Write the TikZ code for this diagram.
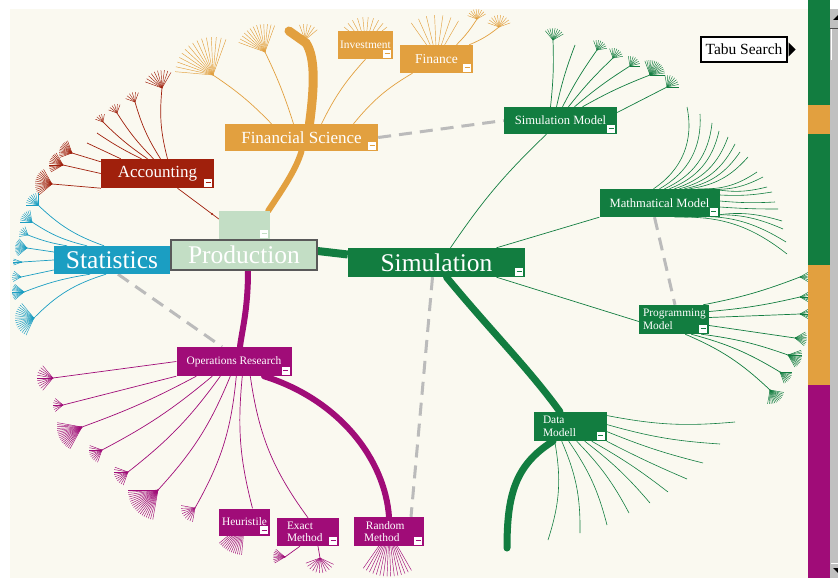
\documentclass[tikz,border=0pt]{standalone}
\usepackage{fontspec}
\setmainfont{Liberation Serif}
\usetikzlibrary{arrows.meta, positioning, calc, backgrounds}

\definecolor{cream}{RGB}{250,249,240}
\definecolor{fsorange}{RGB}{226,160,63}
\definecolor{acred}{RGB}{160,32,12}
\definecolor{stblue}{RGB}{27,158,194}
\definecolor{simgreen}{RGB}{18,125,64}
\definecolor{ormag}{RGB}{160,12,120}
\definecolor{prodgreen}{RGB}{195,222,197}
\definecolor{dashgray}{RGB}{187,187,187}
\definecolor{bargray}{RGB}{192,192,192}

\tikzset{
  box/.style      = {inner sep=0pt, text=white, align=center},
  twig/.style     = {line width=0.7pt},
  fan/.style      = {line width=0.45pt},
  trunk/.style    = {line cap=round},
  link/.style     = {dashgray, line width=3pt, dash pattern=on 13pt off 8pt},
  minusbox/.style = {fill=white, minimum size=8pt, inner sep=0pt}
}

% fan of twigs: colour, centre, first angle, last angle, length, steps
\newcommand{\twigfan}[6]{%
  \foreach \k in {0,...,#6}
    \draw[#1, fan] (#2) -- ++({#3+(#4-#3)*\k/#6}:#5);}

\begin{document}
\begin{tikzpicture}[x=1pt, y=-1pt,
  lblbig/.style={font=\fontsize{25.5}{28}\selectfont},
  lblmid/.style={font=\fontsize{17}{19}\selectfont},
  lblsmall/.style={font=\fontsize{12.6}{14}\selectfont},
  lbltiny/.style={font=\fontsize{11.4}{12.6}\selectfont}]

\useasboundingbox (0,0) rectangle (838,578);

% topic boxes
\node[box, lbltiny, fill=fsorange, minimum width=55, minimum height=28] (invest) at (365.5,45) {Investment};
\node[box, font=\fontsize{13.5}{15}\selectfont, fill=fsorange, minimum width=73, minimum height=28] (finance) at (436.5,59) {Finance};
\node[box, lblmid, fill=fsorange, minimum width=153, minimum height=27] (finsci) at (301.5,137.5) {Financial Science};
\node[box, lblmid, fill=acred, minimum width=113, minimum height=29] (acct) at (157.5,173.5) {Accounting};
\node[box, fill=prodgreen, minimum width=51, minimum height=28] (prodtop) at (244.5,225) {};
\node[box, lblbig, fill=stblue, minimum width=116, minimum height=28] (stats) at (112,260) {Statistics};
\node[box, lblbig, fill=prodgreen, draw=black!65, line width=1.2pt, minimum width=146, minimum height=30] (prod) at (244,255) {Production};
\node[box, lblbig, fill=simgreen, minimum width=177, minimum height=29] (sim) at (436.5,262.5) {Simulation};
\node[box, lblsmall, fill=simgreen, minimum width=113, minimum height=27] (simmodel) at (560.5,120.5) {Simulation Model};
\node[box, lblsmall, fill=simgreen, minimum width=120, minimum height=28] (mathmodel) at (659.5,203) {Mathmatical Model};
\node[box, lbltiny, fill=simgreen, minimum width=70, minimum height=29, text width=62, align=left] (progmodel) at (674,319.5) {Programming\\Model};
\node[box, lbltiny, fill=simgreen, minimum width=73, minimum height=29, text width=54, align=left] (datamodel) at (570,426.5) {Data\\Modell};
\node[box, lbltiny, fill=ormag, minimum width=115, minimum height=29] (opres) at (234,361.5) {Operations Research};
\node[box, lbltiny, fill=ormag, minimum width=51, minimum height=27] (heur) at (244.5,522) {Heuristile};
\node[box, lbltiny, fill=ormag, minimum width=62, minimum height=28, text width=42, align=left] (exact) at (308,532) {Exact\\Method};
\node[box, lbltiny, fill=ormag, minimum width=70, minimum height=29, text width=50, align=left] (random) at (389,531.5) {\,Random\\Method};

% collapse markers
\foreach \n/\c in {invest/fsorange, finance/fsorange, finsci/fsorange, acct/acred,
                   prodtop/prodgreen, sim/simgreen, simmodel/simgreen, mathmodel/simgreen,
                   progmodel/simgreen, datamodel/simgreen, opres/ormag, heur/ormag,
                   exact/ormag, random/ormag}{
  \node[minusbox] (m\n) at ([xshift=-6pt,yshift=5.5pt]\n.south east) {};
  \draw[\c, line width=1.3pt] ([xshift=-2.5pt]m\n.center) -- ([xshift=2.5pt]m\n.center);
}

\node[draw=black, line width=1.3pt, fill=white, inner sep=0pt, minimum width=86, minimum height=25,
      font=\fontsize{15.5}{17}\selectfont] (tabu) at (744,49.5) {Tabu Search};
\fill ([xshift=1pt,yshift=7pt]tabu.east) -- ([xshift=8pt]tabu.east) -- ([xshift=1pt,yshift=-7pt]tabu.east) -- cycle;

\begin{scope}[on background layer]
\fill[white] (0,0) rectangle (838,578);
\fill[cream] (10,9) rectangle (808,578);

% cross links
\draw[link] (finsci.east) -- (simmodel.west);
\draw[link] ([xshift=6]stats.south) -- ([xshift=-12]opres.north);
\draw[link] ([xshift=-4]sim.south) -- ([xshift=22]random.north);
\draw[link] ([xshift=-5]mathmodel.south) -- ([xshift=1]progmodel.north);

% financial science
\coordinate (fstop) at (289,31);
\foreach \nm/\px/\py in {fa/213/75, fb/265/52, fc/305/40, fd/477/19, fe/499/27}
  \coordinate (\nm) at (\px,\py);
\draw[twig, fsorange] ([xshift=-30]finsci.north) to[bend right=6] (fa);
\draw[twig, fsorange] ([xshift=-8]finsci.north) to[bend right=4] (fb);
\draw[twig, fsorange] ([xshift=20]finsci.north) to[bend left=8] (invest.south);
\draw[twig, fsorange] ([xshift=52]finsci.north) to[bend left=10] ([xshift=-24]finance.south);
\draw[twig, fsorange] ([xshift=20]finance.north) to[bend right=6] (fd);
\draw[twig, fsorange] ([xshift=-4]finance.north east) to[bend right=8] (fe);
\twigfan{fsorange}{fa}{185}{290}{38}{14}
\twigfan{fsorange}{fb}{200}{290}{28}{12}
\twigfan{fsorange}{fc}{250}{320}{16}{5}
\twigfan{fsorange}{fd}{200}{330}{10}{8}
\twigfan{fsorange}{fe}{200}{340}{12}{9}
\twigfan{fsorange}{invest.center}{220}{320}{28}{9}
\twigfan{fsorange}{finance.center}{235}{300}{44}{6}
\draw[trunk, fsorange, line width=6] ([xshift=-2]prodtop.north east) .. controls (282,190) and (296,170) .. (finsci.south);
\draw[trunk, fsorange, line width=9] ([xshift=8]finsci.north) .. controls (314,90) and (316,58) .. (306,43) -- (fstop);

% accounting
\foreach \nm/\px/\py in {ra/162/88, rb/135/102, rc/117/113, rd/103/122, re/97/133,
                         rf/87/143, rg/72/153, rh/63/165, ri/52/184}
  \coordinate (\nm) at (\px,\py);
\draw[twig, acred] ([xshift=10]acct.north) to[bend left=10] (ra);
\draw[twig, acred] ([xshift=3]acct.north) to[bend left=8] (rb);
\draw[twig, acred] ([xshift=-4]acct.north) to[bend left=6] (rc);
\draw[twig, acred] ([xshift=-10]acct.north) to[bend left=5] (rd);
\draw[twig, acred] ([xshift=-16]acct.north) to[bend left=4] (re);
\draw[twig, acred] ([xshift=20]acct.north west) -- (rf);
\draw[twig, acred] ([yshift=-3]acct.north west) -- (rg);
\draw[twig, acred] (acct.west) -- (rh);
\draw[twig, acred] (acct.south west) -- (ri);
\twigfan{acred}{ra}{200}{300}{18}{9}
\twigfan{acred}{rb}{200}{290}{10}{5}
\twigfan{acred}{rc}{200}{290}{9}{5}
\twigfan{acred}{rd}{200}{280}{8}{4}
\twigfan{acred}{rg}{160}{250}{13}{12}
\twigfan{acred}{rh}{150}{240}{14}{12}
\twigfan{acred}{ri}{140}{240}{17}{14}
\draw[twig, acred] ([xshift=20]acct.south) -- ([yshift=6]prodtop.west);
\fill[acred] (212,214) circle (1.2);

% statistics
\foreach \nm/\px/\py in {sa/38/205, sb/32/222, sc/28/235, sd/27/248, se/22/262,
                         sf/21/277, sg/24/292, sh/34/318}
  \coordinate (\nm) at (\px,\py);
\draw[twig, stblue] ([xshift=-8]stats.north) to[bend left=12] (sa);
\draw[twig, stblue] ([xshift=-25]stats.north) to[bend left=10] (sb);
\draw[twig, stblue] ([xshift=-45]stats.north) to[bend left=6] (sc);
\draw[twig, stblue] ([yshift=8]stats.west) -- (sd);
\draw[twig, stblue] (stats.west) -- (se);
\draw[twig, stblue] ([yshift=-10]stats.west) -- (sf);
\draw[twig, stblue] ([xshift=-22]stats.south) to[bend right=6] (sg);
\draw[twig, stblue] ([xshift=-6]stats.south) to[bend right=14] (sh);
\twigfan{stblue}{sa}{180}{270}{12}{8}
\twigfan{stblue}{sb}{180}{260}{12}{8}
\twigfan{stblue}{sc}{170}{250}{9}{5}
\twigfan{stblue}{sd}{140}{230}{12}{12}
\twigfan{stblue}{se}{160}{200}{9}{4}
\twigfan{stblue}{sf}{150}{220}{9}{5}
\twigfan{stblue}{sg}{140}{220}{12}{12}
\twigfan{stblue}{sh}{115}{230}{19}{16}

% operations research
\foreach \nm/\px/\py in {ma/53/378, mb/63/405, mc/82/427, md/102/450, me/128/472,
                         mf/158/490, mg/195/508, ea/285/557, eb/320/558}
  \coordinate (\nm) at (\px,\py);
\draw[twig, ormag] (opres.west) -- (ma);
\draw[twig, ormag] (opres.south west) -- (mb);
\draw[twig, ormag] ([xshift=20]opres.south west) to[bend left=4] (mc);
\draw[twig, ormag] ([xshift=36]opres.south west) to[bend left=6] (md);
\draw[twig, ormag] ([xshift=44]opres.south west) to[bend left=8] (me);
\draw[twig, ormag] ([xshift=54]opres.south west) to[bend left=10] (mf);
\draw[twig, ormag] ([xshift=60]opres.south west) to[bend left=12] (mg);
\draw[twig, ormag] ([xshift=66]opres.south west) to[bend right=10] ([xshift=8]heur.north);
\draw[twig, ormag] ([xshift=74]opres.south west) to[bend right=14] (exact.north);
\draw[twig, ormag] ([xshift=-8]exact.south) -- (ea);
\draw[twig, ormag] ([xshift=10]exact.south) -- (eb);
\twigfan{ormag}{ma}{130}{230}{16}{10}
\twigfan{ormag}{mb}{140}{220}{10}{6}
\twigfan{ormag}{mc}{119}{190}{25}{16}
\twigfan{ormag}{md}{110}{200}{13}{9}
\twigfan{ormag}{me}{110}{200}{14}{9}
\twigfan{ormag}{mf}{100}{180}{30}{18}
\twigfan{ormag}{mg}{100}{190}{14}{8}
\twigfan{ormag}{heur.center}{95}{140}{33}{12}
\twigfan{ormag}{ea}{150}{220}{12}{8}
\twigfan{ormag}{eb}{25}{160}{15}{10}
\twigfan{ormag}{random.center}{60}{125}{45}{14}
\draw[trunk, ormag, line width=6] ([xshift=4]prod.south) .. controls (248,310) and (242,330) .. ([xshift=6]opres.north);
\draw[trunk, ormag, line width=6] ([xshift=30]opres.south) .. controls (340,400) and (385,460) .. (random.north);

% simulation
\coordinate (gtail) at (507,548);
\draw[twig, simgreen] ([xshift=14]sim.north) to[bend left=6] ([xshift=-14]simmodel.south);
\draw[twig, simgreen] ([xshift=60]sim.north) -- (mathmodel.south west);
\draw[twig, simgreen] ([xshift=60]sim.south) -- ([yshift=-2]progmodel.west);
\draw[simgreen, line width=8] ([yshift=4]prod.east) -- ([yshift=8]sim.west);
\draw[trunk, simgreen, line width=7] ([xshift=10]sim.south) .. controls (490,330) and (530,370) .. ([xshift=-10]datamodel.north);
\draw[trunk, simgreen, line width=7] ([xshift=-17]datamodel.south) .. controls (515,465) and (507,495) .. (gtail);

% simulation model
\foreach \nm/\px/\py in {ga/553/40, gb/575/45, gc/597/50, gd/613/58, ge/630/66,
                         gf/650/75, gg/667/87}
  \coordinate (\nm) at (\px,\py);
\draw[twig, simgreen] ([xshift=-10]simmodel.north) to[bend right=4] (ga);
\draw[twig, simgreen] ([xshift=-4]simmodel.north) to[bend left=4] (gb);
\draw[twig, simgreen] ([xshift=2]simmodel.north) to[bend left=4] (gc);
\draw[twig, simgreen] ([xshift=8]simmodel.north) to[bend left=4] (gd);
\draw[twig, simgreen] ([xshift=14]simmodel.north) to[bend left=4] (ge);
\draw[twig, simgreen] ([xshift=22]simmodel.north) to[bend left=4] (gf);
\draw[twig, simgreen] ([yshift=8]simmodel.east) -- (gg);
\twigfan{simgreen}{ga}{230}{330}{12}{8}
\twigfan{simgreen}{gc}{250}{350}{10}{7}
\twigfan{simgreen}{gd}{250}{350}{10}{7}
\twigfan{simgreen}{ge}{260}{360}{10}{7}
\twigfan{simgreen}{gf}{250}{360}{15}{14}
\twigfan{simgreen}{gg}{260}{360}{12}{8}

% mathmatical model
\foreach \i/\an/\dx/\dy/\ex/\ey/\bd in {
    1/north/-6/0/687/107/34, 2/north/0/0/700/114/32, 3/north/5/0/712/123/30,
    4/north/10/0/719/131/28, 5/north/15/0/728/137/26, 6/north/20/0/735/144/24,
    7/north/25/0/740/152/22, 8/north/30/0/748/157/20, 9/north/38/0/757/172/18,
    10/north/45/0/763/177/16, 11/north/52/0/767/187/12, 12/east/0/8/772/192/6,
    13/east/0/2/775/202/4, 14/east/0/-4/778/209/2}{
  \coordinate (mm\i) at (\ex,\ey);
  \draw[fan, simgreen, line width=0.6pt] ([xshift=\dx,yshift=\dy]mathmodel.\an) to[bend right=\bd] (mm\i);
}
\foreach \i/\dx/\ex/\ey/\bd in {15/45/782/221/14, 16/35/783/229/16,
                                17/25/786/242/18, 18/15/787/254/20}{
  \coordinate (mm\i) at (\ex,\ey);
  \draw[fan, simgreen, line width=0.6pt] ([xshift=\dx]mathmodel.south) to[bend left=\bd] (mm\i);
}

% programming model
\foreach \nm/\px/\py in {pa/800/277, pb/800/297, pc/800/314, pd/795/338,
                         pe/788/355, pf/780/372, pg/770/390}
  \coordinate (\nm) at (\px,\py);
\draw[twig, simgreen] ([xshift=-6]progmodel.north east) to[bend right=5] (pa);
\draw[twig, simgreen] ([yshift=8]progmodel.east) to[bend right=4] (pb);
\draw[twig, simgreen] ([yshift=2]progmodel.east) -- (pc);
\draw[twig, simgreen] ([yshift=-6]progmodel.east) -- (pd);
\draw[twig, simgreen] ([xshift=-8]progmodel.south east) to[bend left=6] (pe);
\draw[twig, simgreen] ([xshift=-18]progmodel.south east) to[bend left=8] (pf);
\draw[twig, simgreen] ([xshift=-24]progmodel.south east) to[bend left=10] (pg);
\twigfan{simgreen}{pa}{-30}{30}{10}{5}
\twigfan{simgreen}{pb}{-30}{30}{10}{6}
\twigfan{simgreen}{pc}{-30}{30}{10}{6}
\twigfan{simgreen}{pd}{-30}{40}{12}{8}
\twigfan{simgreen}{pe}{-20}{60}{14}{12}
\twigfan{simgreen}{pf}{0}{70}{12}{8}
\twigfan{simgreen}{pg}{10}{100}{14}{12}

% data modell
\foreach \i/\an/\dx/\dy/\ex/\ey/\bd in {
    1/east/0/11/735/422/8, 2/east/0/2/720/444/6, 3/east/0/-5/703/463/4,
    4/south east/0/0/687/479/2}{
  \coordinate (dm\i) at (\ex,\ey);
  \draw[fan, simgreen, line width=0.6pt] ([xshift=\dx,yshift=\dy]datamodel.\an) to[bend right=\bd] (dm\i);
}
\foreach \i/\dx/\ex/\ey/\bd in {5/-15/668/492/4, 6/-22/650/503/6, 7/-30/629/513/8,
                                8/-38/607/525/10, 9/-45/580/533/12, 10/-52/548/540/14}{
  \coordinate (dm\i) at (\ex,\ey);
  \draw[fan, simgreen, line width=0.6pt] ([xshift=\dx]datamodel.south east) to[bend left=\bd] (dm\i);
}
\end{scope}

% colour strip and scroll bar
\foreach \c/\a/\b in {simgreen/0/105, fsorange/105/134, simgreen/134/265,
                      fsorange/265/385, ormag/385/578}
  \fill[\c] (808,\a) rectangle (830,\b);
\fill[bargray] (830,0) rectangle (838,578);
\fill[white] (830,0) rectangle (838,9);
\draw[black!70] (830,28) -- (838,28);
\draw[white] (831,29) -- (831,60);
\fill[black] (833,20) -- (838,20) -- (838,15) -- cycle;
\draw[white, line width=1pt] (831,563) -- (838,563);
\fill[black] (833,568) -- (838,568) -- (838,573) -- cycle;

\end{tikzpicture}
\end{document}
